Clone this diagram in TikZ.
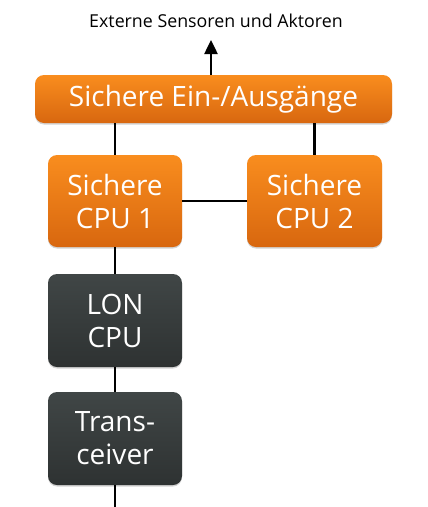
\documentclass[tikz,border=0pt]{standalone}
\usepackage{fontspec}
\setmainfont{Open Sans}
\usetikzlibrary{shadows,arrows.meta}

\definecolor{orangetop}{HTML}{F98D1E}
\definecolor{orangebot}{HTML}{D8670F}
\definecolor{darktop}{HTML}{404646}
\definecolor{darkbot}{HTML}{2E3232}

\begin{document}
\begin{tikzpicture}[x=1pt,y=-1pt,
	box/.style={rounded corners=9pt, text=white, align=center, inner sep=0pt,
		font=\fontsize{28}{33}\selectfont,
		drop shadow={shadow xshift=0pt, shadow yshift=-1.5pt, opacity=0.35}},
	safebox/.style={box, top color=orangetop, bottom color=orangebot},
	lonbox/.style={box, top color=darktop, bottom color=darkbot},
	wire/.style={line width=2.5pt, black}]
	
	% Rahmen des Bildes
	\useasboundingbox (0,0) rectangle (428,507);
	
	% Beschriftung oben
	\node[font=\fontsize{17.8}{20}\selectfont] (ext) at (216,21) {Externe Sensoren und Aktoren};
	
	% Sichere Ein-/Ausgaenge
	\node[safebox, minimum width=357pt, minimum height=48pt] (io) at (213.5,99)
		{Sichere Ein-/Ausgänge};
	
	% sichere CPUs
	\node[safebox, minimum width=134pt, minimum height=92pt] (cpua) at (115,201)
		{Sichere\\CPU 1};
	\node[safebox, minimum width=135pt, minimum height=92pt] (cpub) at (314.5,201)
		{Sichere\\CPU 2};
	
	% LON-Teil
	\node[lonbox, minimum width=134pt, minimum height=93pt] (lon) at (115,320.5)
		{LON\\CPU};
	\node[lonbox, minimum width=134pt, minimum height=93pt] (trx) at (115,438.5)
		{Trans-\\ceiver};
	
	% freie Leitungsenden
	\coordinate (out) at (211,40);
	\coordinate (bus) at (115,507);
	
	% Verbindungen
	\draw[wire, -{Triangle[length=14pt,width=13pt]}] (io.north -| out) -- (out);
	\draw[wire] (io.south -| cpua) -- (cpua.north);
	\draw[wire] (io.south -| cpub) -- (cpub.north);
	\draw[wire] (cpua) -- (cpub);
	\draw[wire] (cpua) -- (lon);
	\draw[wire] (lon) -- (trx);
	\draw[wire] (trx) -- (bus);
	
\end{tikzpicture}
\end{document}
